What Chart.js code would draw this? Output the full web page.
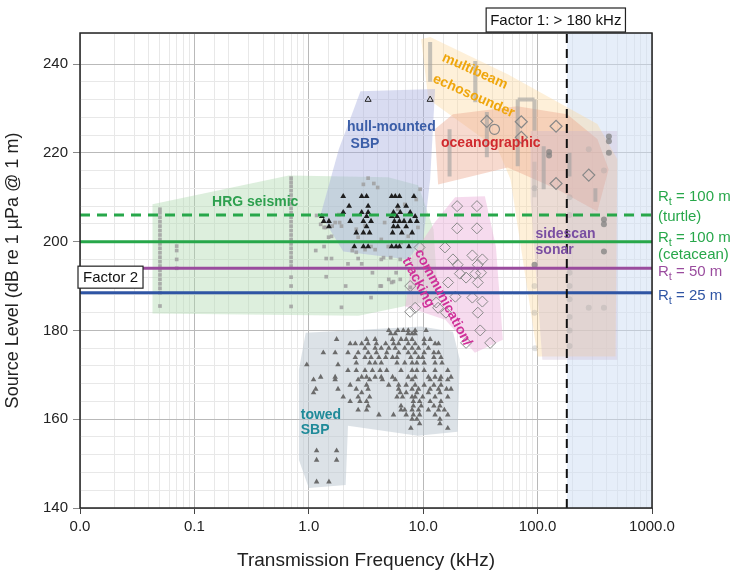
<!DOCTYPE html>
<html>
<head>
<meta charset="utf-8">
<script src="https://cdn.jsdelivr.net/npm/chart.js@4.4.1/dist/chart.umd.min.js"></script>
<style>
  html, body { margin: 0; padding: 0; background: #fff; }
</style>
</head>
<body>
<canvas id="chart" width="732" height="572"></canvas>
<script>
// ---- data (frequency kHz, source level dB) ----
var yTickLabels = [140, 160, 180, 200, 220, 240];
var factor1Freq = 180;

// threshold lines: level in dB
var refLevels = [206, 200, 194, 188.5];
var refNames = [['R', 't', ' = 100 m', '(turtle)'], ['R', 't', ' = 100 m', '(cetacean)'], ['R', 't', ' = 50 m', ''], ['R', 't', ' = 25 m', '']];

// shaded envelopes
var hrgArea = [[0.043, 208.4], [0.67, 214.9], [4.95, 214.5], [9.05, 212.7], [12.3, 202.8], [13.5, 187], [2.72, 183.3], [0.043, 183.8]];
var hullArea = [[2.83, 233.9], [12.7, 234.4], [11.5, 214], [10, 200.5], [7.4, 196], [2.0, 197.8], [1.27, 206.1], [1.83, 220.8]];
var multibeamArea = [[9.6, 245.6], [11.5, 246.1], [54.8, 237.7], [333, 226.5], [497, 218.6], [480, 174.1], [100, 174.1], [58, 214], [45, 220.8], [11.1, 232.1]];
var oceanArea = [[12.6, 225.3], [18.2, 228.7], [66.5, 230.5], [181, 228.7], [333, 223.1], [418, 216.3], [333, 206.8], [148, 211.8], [54.8, 216.7], [24.6, 214.5], [13.5, 212.9]];
var sidescanArea = [[86.9, 224.9], [497, 224.9], [497, 173.4], [110, 173.4], [86.9, 209.5]];
var commArea = [[19, 210], [34.6, 210.2], [43.2, 198.9], [49.7, 177.9], [28.3, 175], [15.6, 182.4], [6.97, 185.4], [8.0, 196.7], [12.6, 204.3]];
var towedArea = [[0.94, 179.5], [9.6, 180.9], [18.2, 179.7], [20.9, 173.4], [20, 157.2], [9.0, 156.3], [2.2, 158.5], [2.1, 145.2], [1.0, 144.5], [0.82, 150.8], [0.82, 171.2]];

// HRG seismic sources (grey squares)
var hrgSeismic = [
  [0.05, 185.5], [0.05, 188.5], [0.05, 189.5], [0.05, 190.5], [0.05, 191.5], [0.05, 192.5], [0.05, 193.5], [0.05, 194.5],
  [0.05, 195.5], [0.05, 196.5], [0.05, 197.5], [0.05, 198.5], [0.05, 199.5], [0.05, 200.5], [0.05, 201.5], [0.05, 202.5],
  [0.05, 203.5], [0.05, 204.5], [0.05, 205.5], [0.05, 206.5], [0.05, 207.3],
  [0.07, 199], [0.07, 198], [0.07, 196], [0.07, 194],
  [0.7, 185.4], [0.7, 190], [0.7, 192], [0.7, 194.5], [0.7, 195.5], [0.7, 196.5], [0.7, 197.5], [0.7, 198.5], [0.7, 199.5],
  [0.7, 200.5], [0.7, 201.5], [0.7, 202.5], [0.7, 203.5], [0.7, 204.5], [0.7, 205.5], [0.7, 206.5], [0.7, 207.5], [0.7, 208.5],
  [0.7, 209.5], [0.7, 210.5], [0.7, 211.5], [0.7, 212.5], [0.7, 213.4], [0.7, 214.3],
  [1.17, 205.9], [1.15, 198], [1.36, 198.9], [1.36, 203.2], [1.27, 203.9], [1.42, 196.2], [1.58, 196.2], [1.42, 192.1],
  [1.49, 201], [1.58, 201.2], [1.7, 204.3], [1.86, 204.3], [2.1, 190], [1.93, 185.2], [2.2, 195], [2.4, 198], [2.7, 196.2],
  [2.9, 195], [2.7, 201], [3.1, 203.6], [3.3, 214.3], [3.7, 213.1], [3.0, 212.9], [4.0, 212.2], [1.83, 206.1], [1.93, 203.5],
  [1.6, 203.5], [1.4, 203.2], [2.6, 202.8], [4.6, 204.3], [4.3, 200.5], [4.95, 198.9], [3.8, 198.2], [6.4, 199.8], [7.4, 201.2],
  [9.0, 203.2], [6.0, 207.3], [6.9, 208.4], [9.4, 211.8], [8.7, 209.5], [2.6, 197.6], [3.1, 198.2], [3.5, 198.9], [4.5, 196.4],
  [5.2, 196.4], [3.6, 193], [4.3, 190], [5.0, 191.5], [3.5, 187.4], [5.3, 190.8], [6.3, 191.5], [5.8, 193], [4.3, 196],
  [5.5, 191], [7.7, 189.7], [4.2, 190], [6.3, 196]
];

// hull-mounted SBP (black triangles) and two open triangles
var hullSBP = [
  [2.0, 210.2], [2.9, 210.2], [3.2, 210.2], [5.3, 210.2], [5.7, 210.2], [6.2, 210.2], [8.3, 210.2],
  [2.25, 208], [3.3, 208], [6.0, 208], [7.1, 208],
  [2.0, 206.6], [2.9, 206.6], [3.3, 206.6], [5.5, 206.6], [6.3, 206.6], [7.7, 206.6],
  [1.3, 205.7], [3.2, 205.7], [5.3, 205.7], [5.9, 205.7], [8.5, 205.7],
  [1.35, 204.6], [1.5, 204.6], [2.3, 204.6], [3.0, 204.6], [3.5, 204.6], [5.6, 204.6], [6.2, 204.6], [6.8, 204.6], [7.7, 204.6], [8.8, 204.6],
  [1.5, 203.4], [3.2, 203.4], [5.5, 203.4], [6.0, 203.4], [7.1, 203.4],
  [2.6, 202], [3.0, 202], [3.4, 202], [5.4, 202], [6.5, 202], [8.0, 202],
  [2.5, 198.9], [3.0, 198.9], [3.3, 198.9], [5.3, 198.9], [5.8, 198.9], [6.2, 198.9], [7.5, 198.9]
];
var hullOpen = [[3.3, 232], [11.5, 232]];

// towed SBP (grey triangles)
var towedSBP = [
  [5.0, 180], [6.0, 180], [6.7, 180], [7.4, 180], [8.5, 180], [10.6, 180],
  [5.2, 179.3], [5.7, 179.3], [7.4, 179.3], [8.0, 179.3], [8.5, 179.3],
  [1.75, 178], [3.2, 178], [3.8, 178], [5.4, 178], [6.4, 178], [7.1, 178], [8.0, 178], [10.2, 178], [11.5, 178],
  [2.3, 177], [2.55, 177], [2.9, 177], [3.3, 177], [3.9, 177], [4.7, 177], [5.5, 177], [6.1, 177], [7.4, 177], [8.5, 177], [10.2, 177], [12.7, 177], [13.6, 177],
  [3.1, 176], [3.8, 176], [4.3, 176], [5.0, 176], [5.7, 176], [6.9, 176], [8.0, 176], [9.1, 176], [11.1, 176],
  [1.34, 175], [1.7, 175], [2.2, 175], [2.7, 175], [3.3, 175], [3.9, 175], [4.8, 175], [6.1, 175], [7.4, 175], [8.5, 175], [10.2, 175], [12.4, 175], [13.6, 175],
  [2.55, 173.9], [3.1, 173.9], [3.5, 173.9], [4.1, 173.9], [4.7, 173.9], [5.4, 173.9], [5.9, 173.9], [7.8, 173.9], [9.1, 173.9], [9.9, 173.9], [12.4, 173.9], [14.3, 173.9],
  [2.6, 172.7], [3.4, 172.7], [3.8, 172.7], [4.3, 172.7], [5.9, 172.7], [6.9, 172.7], [8.0, 172.7], [8.8, 172.7], [10.2, 172.7], [12.7, 172.7], [14.6, 172.7],
  [0.96, 172.3], [1.8, 172.3],
  [2.2, 171], [2.6, 171], [3.1, 171], [3.6, 171], [4.2, 171], [4.8, 171], [6.4, 171], [8.0, 171], [8.8, 171], [10.2, 171], [12.7, 171], [16.4, 171],
  [1.27, 169.5], [1.7, 169.5], [2.9, 169.5], [3.2, 169.5], [3.8, 169.5], [4.3, 169.5], [5.4, 169.5], [7.4, 169.5], [8.5, 169.5], [11.1, 169.5], [12.7, 169.5], [14.3, 169.5], [17.5, 169.5],
  [1.1, 168.9], [1.7, 168.9], [2.7, 168.9], [3.4, 168.9], [4.4, 168.9], [5.7, 168.9], [8.0, 168.9], [11.5, 168.9], [14.0, 168.9], [16.4, 168.9],
  [2.3, 167.7], [3.2, 167.7], [5.0, 167.7], [6.1, 167.7], [7.1, 167.7], [8.5, 167.7], [10.2, 167.7], [12.4, 167.7], [14.3, 167.7],
  [1.15, 166.8], [1.8, 166.8], [2.6, 166.8], [3.3, 166.8], [6.1, 166.8], [8.0, 166.8], [9.1, 166.8], [11.5, 166.8], [13.6, 166.8], [16, 166.8], [17.5, 166.8],
  [1.1, 166], [2.9, 166], [6.3, 166], [7.1, 166], [8.8, 166], [11.1, 166], [14.0, 166],
  [2.0, 165], [2.7, 165], [3.4, 165], [5.9, 165], [6.6, 165], [8.0, 165], [8.5, 165], [9.9, 165], [12.7, 165], [16.4, 165],
  [2.3, 164], [2.8, 164], [3.2, 164], [8.2, 164], [9.3, 164], [11.5, 164], [14.3, 164],
  [3.3, 163], [6.4, 163], [8.2, 163], [9.6, 163], [12.4, 163], [14.0, 163],
  [2.7, 162.1], [3.2, 162.1], [6.4, 162.1], [6.9, 162.1], [8.0, 162.1], [9.1, 162.1], [11.1, 162.1], [13.6, 162.1], [15.3, 162.1],
  [4.1, 161], [5.5, 161], [7.1, 161], [8.2, 161], [9.3, 161], [12.7, 161], [16.4, 161],
  [8.0, 160], [8.8, 160], [14.0, 160], [9.3, 159], [14.0, 159], [7.8, 158], [16.4, 158],
  [1.17, 152.9], [1.75, 152.9], [1.17, 150.8], [1.75, 150.8], [1.17, 145.9], [1.5, 145.9]
];

// communication / tracking (open diamonds)
var commTracking = [
  [19.8, 208], [29.5, 208], [19.8, 203], [29.5, 203], [15.5, 198.7], [9.3, 198.7], [18.2, 196], [26.9, 196.9], [32.9, 196],
  [20, 194.8], [30, 194.8], [20.9, 192.8], [23.7, 191.9], [28.5, 192.8], [16.5, 190.8], [30, 190.8], [19.1, 187.6],
  [26.9, 187.4], [32.9, 186.5], [7.7, 184.2], [8.5, 185.1], [13.5, 185.1], [15.8, 184], [30, 184], [31.5, 180],
  [23.7, 177.2], [38.5, 177.2], [32, 193], [7.7, 190], [13, 186.3]
];

// multibeam / oceanographic / sidescan
var rangeBars = [[11.5, 236, 245], [28.5, 231.4, 240.7], [17, 214.7, 225.3], [36, 219, 229.2], [67, 217, 232], [94, 225, 232],
  [113, 211.8, 221.5], [190, 214.7, 220], [320, 209, 212]];
var bracketTop = [[67, 232], [94, 232]];
var faintBars = [[94, 210, 218]];
var openDiamonds = [[36, 227.1], [72, 227], [145, 226], [72, 223.5], [145, 213.1], [280, 215]];
var openCircles = [[42, 225.3]];
var darkDots = [[126, 220.2], [126, 219.4], [420, 223.7], [420, 222.6], [420, 220], [380, 205], [380, 203.9], [380, 197.8], [94, 194.8]];
var faintDots = [[280, 220.8], [380, 216], [94, 190], [94, 184], [280, 185.1], [380, 185.1], [190, 193], [190, 190], [190, 187],
  [190, 183], [190, 180], [190, 176.5], [95, 176], [94, 212], [190, 210], [190, 206]];

// ---- helpers ----
function pts(list) { return list.map(function (p) { return { x: p[0], y: p[1] }; }); }
function closed(list) { var d = pts(list); d.push({ x: list[0][0], y: list[0][1] }); return d; }
function bars(list) {
  var d = [];
  list.forEach(function (b) { d.push({ x: b[0], y: b[1] }, { x: b[0], y: b[2] }, { x: b[0], y: null }); });
  return d;
}
function isDecade(v) { var l = Math.log10(v); return Math.abs(l - Math.round(l)) < 1e-6; }

var FONT = "'Liberation Sans', Arial, sans-serif";

function area(list, color, order) {
  return { type: 'scatter', data: closed(list), showLine: true, fill: 'shape', backgroundColor: color,
    borderWidth: 0, borderColor: 'rgba(0,0,0,0)', pointRadius: 0, tension: 0, order: order };
}
function refLine(level, color, dash) {
  return { type: 'scatter', data: [{ x: 0.01, y: level }, { x: 1000, y: level }], showLine: true, borderColor: color,
    borderWidth: 3, borderDash: dash, pointRadius: 0, fill: false, order: 1 };
}
var refColors = ['#27a74a', '#27a74a', '#9a4c9e', '#2f55a4'];

var datasets = [
  { type: 'scatter', data: [{ x: factor1Freq, y: 247 }, { x: 1000, y: 247 }], showLine: true, fill: 'start',
    backgroundColor: 'rgba(205,222,243,0.5)', borderWidth: 0, pointRadius: 0, order: 20 },
  area(hrgArea, 'rgba(175,218,175,0.42)', 15),
  area(multibeamArea, 'rgba(253,218,160,0.4)', 15),
  area(sidescanArea, 'rgba(195,175,205,0.3)', 14),
  area(oceanArea, 'rgba(236,168,140,0.42)', 14),
  area(hullArea, 'rgba(165,172,222,0.42)', 14),
  area(commArea, 'rgba(236,175,218,0.45)', 14),
  area(towedArea, 'rgba(185,198,208,0.5)', 14),
  { type: 'scatter', data: bars(rangeBars).concat([{ x: 67, y: null }]).concat(pts(bracketTop)), showLine: true, spanGaps: false,
    borderColor: 'rgba(160,160,160,0.6)', borderWidth: 4, pointRadius: 0, order: 6 },
  { type: 'scatter', data: bars(faintBars), showLine: true, spanGaps: false,
    borderColor: 'rgba(160,160,160,0.3)', borderWidth: 4, pointRadius: 0, order: 6 },
  { type: 'scatter', data: pts(faintDots), pointStyle: 'circle', pointRadius: 3, borderWidth: 0,
    backgroundColor: 'rgba(160,160,160,0.3)', order: 5 },
  { type: 'scatter', data: pts(darkDots), pointStyle: 'circle', pointRadius: 3, borderWidth: 0,
    backgroundColor: 'rgba(130,130,130,0.75)', order: 5 },
  { type: 'scatter', data: pts(hrgSeismic), pointStyle: 'rect', pointRadius: 2.6, borderWidth: 0,
    backgroundColor: 'rgba(160,160,160,0.85)', order: 5 },
  { type: 'scatter', data: pts(towedSBP), pointStyle: 'triangle', pointRadius: 3.2, borderWidth: 0,
    backgroundColor: '#6b6b6b', order: 4 },
  { type: 'scatter', data: pts(hullSBP), pointStyle: 'triangle', pointRadius: 3.4, borderWidth: 0,
    backgroundColor: '#1e1e1e', order: 4 },
  { type: 'scatter', data: pts(hullOpen), pointStyle: 'triangle', pointRadius: 3.5, borderWidth: 1,
    borderColor: '#222', backgroundColor: 'rgba(255,255,255,0)', order: 4 },
  { type: 'scatter', data: pts(commTracking), pointStyle: 'rectRot', pointRadius: 5.5, borderWidth: 1,
    borderColor: '#8a8a8a', backgroundColor: 'rgba(255,255,255,0)', order: 4 },
  { type: 'scatter', data: pts(openDiamonds), pointStyle: 'rectRot', pointRadius: 6, borderWidth: 1.2,
    borderColor: '#888', backgroundColor: 'rgba(255,255,255,0)', order: 4 },
  { type: 'scatter', data: pts(openCircles), pointStyle: 'circle', pointRadius: 5, borderWidth: 1.2,
    borderColor: '#888', backgroundColor: 'rgba(255,255,255,0)', order: 4 },
  refLine(refLevels[0], refColors[0], [10, 7]),
  refLine(refLevels[1], refColors[1], []),
  refLine(refLevels[2], refColors[2], []),
  refLine(refLevels[3], refColors[3], []),
  { type: 'scatter', data: [{ x: factor1Freq, y: 140 }, { x: factor1Freq, y: 247 }], showLine: true,
    borderColor: '#111', borderWidth: 2, borderDash: [9, 6], pointRadius: 0, order: 0 }
];

// group labels inside the plot (anchored in data space)
var groupLabels = [
  { t: 'HRG seismic', f: 0.34, db: 208.8, c: '#2ea04f', a: 'center', r: 0 },
  { t: 'hull-mounted', f: 5.27, db: 225.8, c: '#3b5ea8', a: 'center', r: 0 },
  { t: 'SBP', f: 2.32, db: 221.9, c: '#3b5ea8', a: 'left', r: 0 },
  { t: 'multibeam', f: 28.3, db: 238.4, c: '#efa60c', a: 'center', r: 24 },
  { t: 'echosounder', f: 27.6, db: 232.8, c: '#efa60c', a: 'center', r: 24 },
  { t: 'oceanographic', f: 39, db: 222.2, c: '#d02a2e', a: 'center', r: 0 },
  { t: 'communication/', f: 14.9, db: 187.4, c: '#cf3199', a: 'center', r: 62 },
  { t: 'tracking', f: 9.05, db: 190.8, c: '#cf3199', a: 'center', r: 62 },
  { t: 'sidescan', f: 96, db: 201.6, c: '#7a4ea2', a: 'left', r: 0 },
  { t: 'sonar', f: 96, db: 198, c: '#7a4ea2', a: 'left', r: 0 },
  { t: 'towed', f: 0.85, db: 161, c: '#1f8a99', a: 'left', r: 0 },
  { t: 'SBP', f: 0.85, db: 157.6, c: '#1f8a99', a: 'left', r: 0 }
];

var decorations = {
  id: 'decorations',
  afterDatasetsDraw: function (chart) {
    var ctx = chart.ctx, xs = chart.scales.x, ys = chart.scales.y, ca = chart.chartArea;
    ctx.save();
    ctx.font = 'bold 14px ' + FONT;
    ctx.textBaseline = 'middle';
    groupLabels.forEach(function (g) {
      var px = xs.getPixelForValue(g.f), py = ys.getPixelForValue(g.db);
      ctx.save();
      ctx.translate(px, py);
      ctx.rotate(g.r * Math.PI / 180);
      ctx.fillStyle = g.c;
      ctx.textAlign = g.a;
      ctx.fillText(g.t, 0, 0);
      ctx.restore();
    });
    // plot frame
    ctx.strokeStyle = '#222';
    ctx.lineWidth = 1.5;
    ctx.strokeRect(ca.left, ca.top, ca.right - ca.left, ca.bottom - ca.top);

    // threshold labels on the right
    var offs = [[-18, 2], [-4, 13], [4, 0], [3, 0]];
    ctx.textAlign = 'left';
    refLevels.forEach(function (lv, i) {
      var base = ys.getPixelForValue(lv);
      var py = base + offs[i][0];
      var x0 = ca.right + 6;
      var n = refNames[i];
      ctx.fillStyle = refColors[i];
      ctx.font = '15px ' + FONT;
      ctx.fillText(n[0], x0, py);
      var w = ctx.measureText(n[0]).width;
      ctx.font = '11px ' + FONT;
      ctx.fillText(n[1], x0 + w, py + 5);
      var w2 = ctx.measureText(n[1]).width;
      ctx.font = '15px ' + FONT;
      ctx.fillText(n[2], x0 + w + w2, py);
      if (n[3]) ctx.fillText(n[3], x0, base + offs[i][1]);
    });

    // factor boxes
    ctx.font = '15px ' + FONT;
    ctx.textAlign = 'center';
    var t1 = 'Factor 1: > 180 kHz';
    var w1 = ctx.measureText(t1).width + 8;
    var cx1 = xs.getPixelForValue(factor1Freq) - 11;
    ctx.fillStyle = '#fff';
    ctx.fillRect(cx1 - w1 / 2, ca.top - 25, w1, 24);
    ctx.strokeStyle = '#222';
    ctx.lineWidth = 1.2;
    ctx.strokeRect(cx1 - w1 / 2, ca.top - 25, w1, 24);
    ctx.fillStyle = '#111';
    ctx.fillText(t1, cx1, ca.top - 12);

    var t2 = 'Factor 2';
    var w2b = ctx.measureText(t2).width + 10;
    var cy2 = ys.getPixelForValue(192);
    ctx.fillStyle = '#fff';
    ctx.fillRect(ca.left - 2, cy2 - 11, w2b, 22);
    ctx.strokeRect(ca.left - 2, cy2 - 11, w2b, 22);
    ctx.fillStyle = '#111';
    ctx.fillText(t2, ca.left - 2 + w2b / 2, cy2 + 1);
    ctx.restore();
  }
};

new Chart(document.getElementById('chart').getContext('2d'), {
  type: 'scatter',
  data: { datasets: datasets },
  options: {
    responsive: false,
    devicePixelRatio: 1,
    animation: false,
    layout: { padding: { top: 33, right: 80, left: 0, bottom: 0 } },
    plugins: { legend: { display: false }, tooltip: { enabled: false } },
    scales: {
      x: {
        type: 'logarithmic', min: 0.01, max: 1000,
        afterFit: function (s) { s.height = 64; },
        border: { display: false },
        grid: {
          color: function (c) { return c.tick && isDecade(c.tick.value) ? '#b9b9b9' : '#e8e8e8'; },
          tickColor: function (c) { return c.tick && isDecade(c.tick.value) ? '#444' : 'rgba(0,0,0,0)'; },
          tickLength: 6
        },
        ticks: {
          autoSkip: false, maxRotation: 0, color: '#222', padding: 4,
          font: { family: FONT, size: 15 },
          callback: function (v) { return isDecade(v) ? Number(v).toFixed(1) : ''; }
        },
        title: { display: true, text: 'Transmission Frequency (kHz)', color: '#222',
          font: { family: FONT, size: 19 }, padding: { top: 3, bottom: 0 } }
      },
      y: {
        min: 140, max: 247,
        afterFit: function (s) { s.width = 80; },
        border: { display: false },
        grid: {
          color: function (c) { return c.tick && yTickLabels.indexOf(c.tick.value) >= 0 ? '#b9b9b9' : '#e8e8e8'; },
          tickColor: function (c) { return c.tick && yTickLabels.indexOf(c.tick.value) >= 0 ? '#888' : 'rgba(0,0,0,0)'; },
          tickLength: 7
        },
        ticks: {
          stepSize: 4, autoSkip: false, color: '#222', padding: 5,
          font: { family: FONT, size: 15 },
          callback: function (v) { return yTickLabels.indexOf(v) >= 0 ? v : ''; }
        },
        title: { display: true, text: 'Source Level (dB re 1 µPa @ 1 m)', color: '#222',
          font: { family: FONT, size: 18 }, padding: { top: 2, bottom: 2 } }
      }
    }
  },
  plugins: [decorations]
});
</script>
</body>
</html>
